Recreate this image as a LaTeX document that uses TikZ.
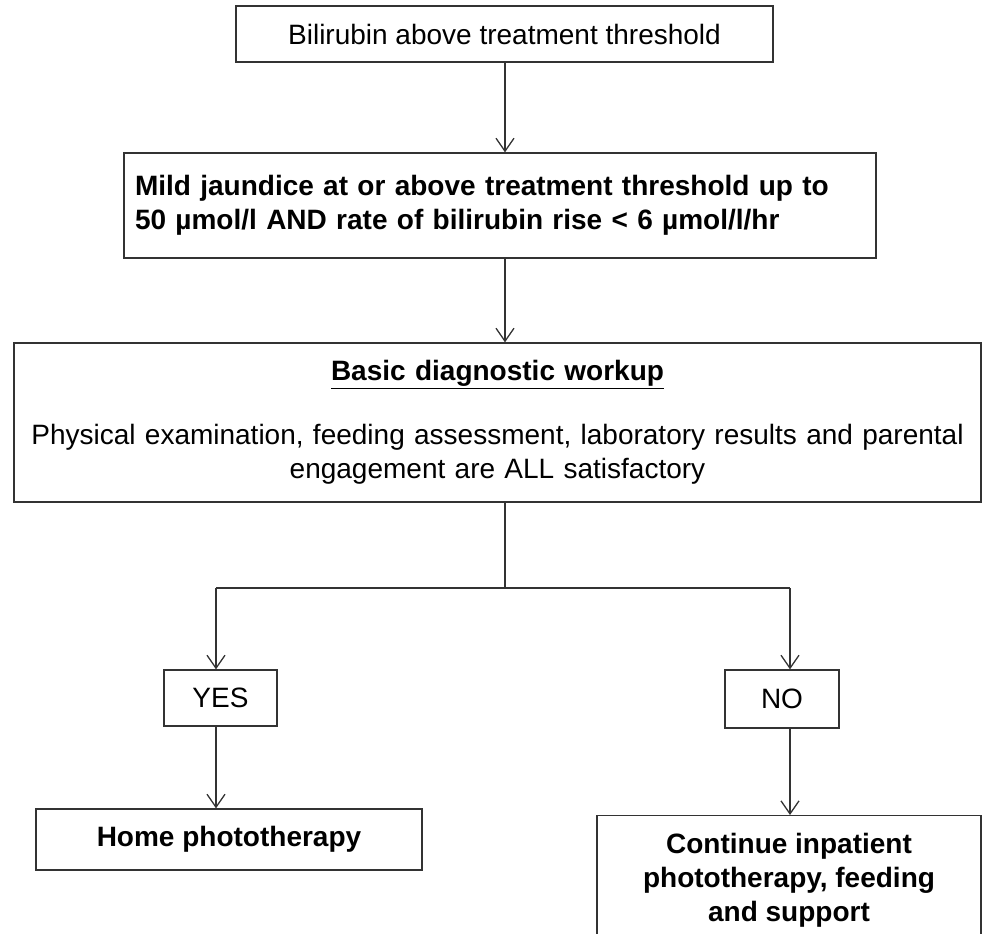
\documentclass[tikz,border=0pt]{standalone}
\usepackage{fontspec}
\setmainfont{Liberation Sans}
\usetikzlibrary{arrows.meta}
\usetikzlibrary{positioning}
\tikzset{
    stepBox/.style={
        ,   rectangle
        ,   draw=black!80
        ,   line width=1.3pt
        ,   inner sep=0pt
        ,   align=center
    },
    regText/.style={
        ,   font={\fontsize{28pt}{34pt}\selectfont}
    },
    boldText/.style={
        ,   font={\fontsize{28pt}{34pt}\selectfont\bfseries}
    },
    flowLine/.style={
        ,   draw=black!80
        ,   line width=1.3pt
    },
    flowArrow/.style={
        ,   flowLine
        ,   -{Straight Barb[length=13pt,width=18pt]}
    }
}

\begin{document}
\begin{tikzpicture}[x=1pt, y=-1pt]
			\path[use as bounding box] (0,0) rectangle (983,934);
			\clip (0,0) rectangle (983,934);
			
			% boxes from top to bottom
			\node[stepBox, regText, minimum width=537pt, minimum height=56pt] (thresh) at (504.5,34) {Bilirubin above treatment threshold};
			\node[stepBox, boldText, minimum width=752pt, minimum height=105pt, text width=730pt, align=left] (mild) at (500,205.5) {Mild jaundice at or above treatment threshold up to\\50 µmol/l AND rate of bilirubin rise < 6 µmol/l/hr};
			\node[stepBox, regText, minimum width=967pt, minimum height=159pt, text width=945pt] (basic) at (497.5,422.5) {\underline{\textbf{Basic diagnostic workup}}\\[30pt]Physical examination, feeding assessment, laboratory results and parental\\engagement are ALL satisfactory};
			
			\coordinate (split) at (505,588);
			\coordinate (yesTurn) at (216,588);
			\coordinate (noTurn) at (790,588);
			
			\node[stepBox, regText, minimum width=113pt, minimum height=56pt] (yes) at (220.5,698) {YES};
			\node[stepBox, regText, minimum width=114pt, minimum height=58pt] (no) at (782,699) {NO};
			\node[stepBox, boldText, minimum width=386pt, minimum height=61pt] (home) at (229,839.5) {Home phototherapy};
			\node[stepBox, boldText, minimum width=384pt, minimum height=130pt, anchor=north] (cont) at (789,815) {Continue inpatient\\phototherapy, feeding\\and support};
			
			% connectors
			\draw[flowArrow] (thresh.south -| split) -- (split |- mild.north);
			\draw[flowArrow] (mild.south -| split) -- (split |- basic.north);
			\draw[flowLine] (basic.south -| split) -- (split);
			\draw[flowLine] (yesTurn) -- (noTurn);
			\draw[flowArrow] (yesTurn) -- (yesTurn |- yes.north);
			\draw[flowArrow] (noTurn) -- (noTurn |- no.north);
			\draw[flowArrow] (yes.south -| yesTurn) -- (yesTurn |- home.north);
			\draw[flowArrow] (no.south -| noTurn) -- (noTurn |- cont.north);
\end{tikzpicture}
\end{document}
